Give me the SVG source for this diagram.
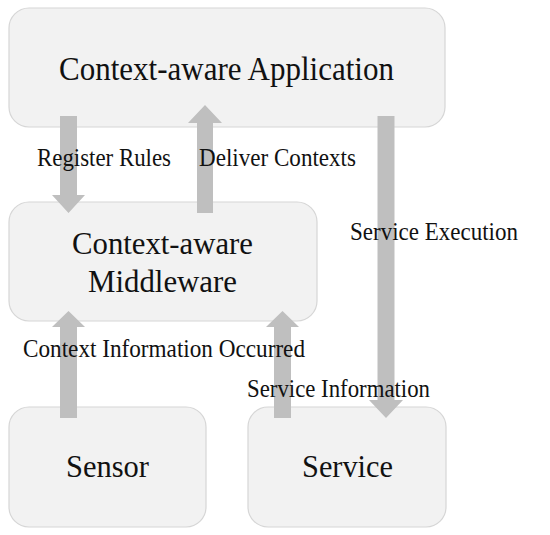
<svg xmlns="http://www.w3.org/2000/svg" width="550" height="535" viewBox="0 0 550 535">
<style>
.box{fill:#f2f2f2;stroke:#d6d6d6;stroke-width:1.2}
.big{font-family:"Liberation Serif","Times New Roman",serif;font-size:31px;fill:#111}
.lbl{font-family:"Liberation Serif","Times New Roman",serif;font-size:25px;fill:#111}
.arr{fill:#bfbfbf}
</style>
<rect width="550" height="535" fill="#fff"/>
<g id="app"><rect class="box" x="9" y="8" width="436" height="119" rx="20"/><text class="big" x="59" y="80" style="font-size:34px" textLength="335" lengthAdjust="spacingAndGlyphs">Context-aware Application</text></g>
<g id="middleware"><rect class="box" x="9" y="202" width="308" height="119" rx="20"/><text class="big" x="72" y="254" textLength="181" lengthAdjust="spacingAndGlyphs">Context-aware</text><text class="big" x="88" y="292" textLength="149" lengthAdjust="spacingAndGlyphs">Middleware</text></g>
<g id="sensor"><rect class="box" x="9" y="407" width="197" height="120" rx="20"/><text class="big" x="66" y="477" textLength="83" lengthAdjust="spacingAndGlyphs">Sensor</text></g>
<g id="service"><rect class="box" x="248" y="407" width="198" height="120" rx="20"/><text class="big" x="302" y="477" textLength="91" lengthAdjust="spacingAndGlyphs">Service</text></g>
<g id="connectors">
<polygon class="arr" points="60,116 77,116 77,195 85,195 68.5,213 52,195 60,195"/>
<polygon class="arr" points="197,213 197,123 188,123 205,105 222,123 213,123 213,213"/>
<polygon class="arr" points="377.5,116 394.5,116 394.5,400 403,400 386,418 369,400 377.5,400"/>
<polygon class="arr" points="60,418 60,327 52,327 68.5,311 85,327 77,327 77,418"/>
<polygon class="arr" points="274,418 274,327 266,327 282.5,311 299,327 291,327 291,418"/>
<text class="lbl" x="37" y="165.5" textLength="134" lengthAdjust="spacingAndGlyphs">Register Rules</text>
<text class="lbl" x="199" y="165.5" textLength="157" lengthAdjust="spacingAndGlyphs">Deliver Contexts</text>
<text class="lbl" x="350" y="240" textLength="168" lengthAdjust="spacingAndGlyphs">Service Execution</text>
<text class="lbl" x="23" y="357" textLength="282" lengthAdjust="spacingAndGlyphs">Context Information Occurred</text>
<text class="lbl" x="247" y="397" textLength="183" lengthAdjust="spacingAndGlyphs">Service Information</text>
</g>
</svg>
